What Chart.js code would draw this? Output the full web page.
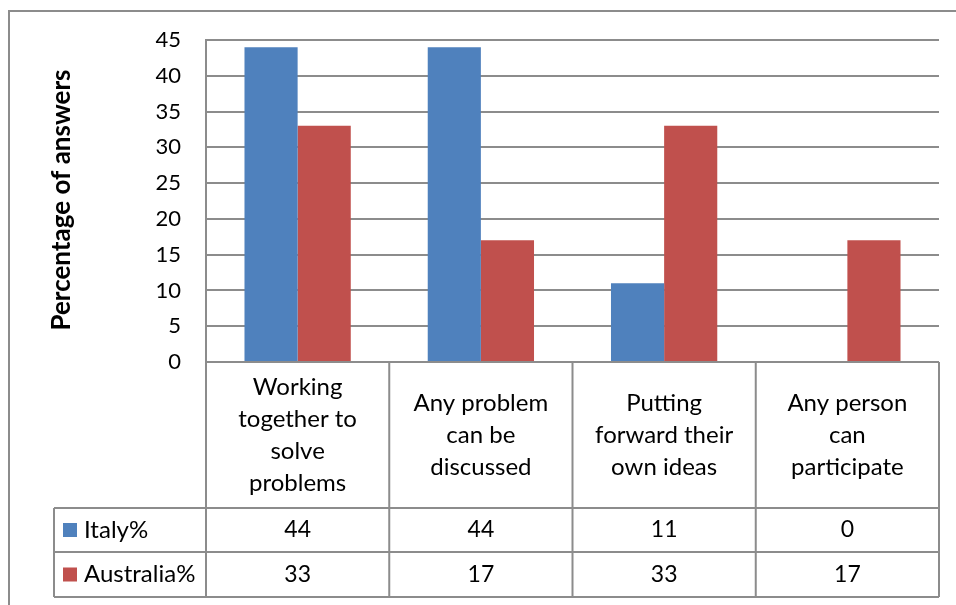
<!DOCTYPE html>
<html>
<head>
<meta charset="utf-8">
<script src="https://cdn.jsdelivr.net/npm/chart.js@4/dist/chart.umd.min.js"></script>
<style>
  html, body { margin: 0; padding: 0; background: #ffffff; }
  #wrap { width: 956px; height: 605px; position: relative; }
</style>
</head>
<body>
<div id="wrap"><canvas id="chart" width="956" height="605"></canvas></div>
<script>
// Survey answers by country (percent of respondents)
const categories = [
  ["Working", "together to", "solve", "problems"],
  ["Any problem", "can be", "discussed"],
  ["Putting", "forward their", "own ideas"],
  ["Any person", "can", "participate"]
];
const seriesNames = ["Italy%", "Australia%"];
const italy = [44, 44, 11, 0];
const australia = [33, 17, 33, 17];
const yTickValues = [0, 5, 10, 15, 20, 25, 30, 35, 40, 45];
const yTitle = "Percentage of answers";

const seriesColors = ["#4F81BD", "#C0504D"];
const lineColor = "#8c8c8c";
const FONT = "Lato, 'Open Sans', sans-serif";

// Data table under the plot: category labels, then one row per series
const dataTable = {
  id: "dataTable",
  afterDraw(chart) {
    const ctx = chart.ctx;
    const area = chart.chartArea;
    const xs = chart.scales.x;
    const n = categories.length;
    const step = (area.right - area.left) / n;
    const bounds = [];
    for (let i = 0; i <= n; i++) bounds.push(area.left + i * step);

    const rowTop = area.bottom;
    const rowCat = 508;
    const rowA = 552;
    const rowB = 597;
    const tableLeft = 54;

    ctx.save();
    // outer chart frame
    ctx.strokeStyle = lineColor;
    ctx.lineWidth = 2;
    ctx.beginPath();
    ctx.moveTo(9, 605);
    ctx.lineTo(9, 11);
    ctx.lineTo(956, 11);
    ctx.stroke();

    // table grid
    ctx.beginPath();
    [rowCat, rowA, rowB].forEach(y => {
      ctx.moveTo(tableLeft, y);
      ctx.lineTo(area.right, y);
    });
    ctx.moveTo(tableLeft, rowCat);
    ctx.lineTo(tableLeft, rowB);
    bounds.forEach(x => {
      ctx.moveTo(x, rowTop);
      ctx.lineTo(x, rowB);
    });
    ctx.stroke();

    // category labels
    ctx.fillStyle = "#000";
    ctx.textAlign = "center";
    ctx.textBaseline = "middle";
    ctx.font = "24px " + FONT;
    const lh = 32;
    categories.forEach((lines, i) => {
      const cx = xs.getPixelForValue(i);
      const cy = (rowTop + rowCat) / 2;
      const y0 = cy - (lines.length - 1) * lh / 2;
      lines.forEach((t, k) => ctx.fillText(t, cx, y0 + k * lh));
    });

    // value rows with legend keys
    const rows = [
      { name: seriesNames[0], vals: italy, top: rowCat, bottom: rowA, color: seriesColors[0] },
      { name: seriesNames[1], vals: australia, top: rowA, bottom: rowB, color: seriesColors[1] }
    ];
    rows.forEach(r => {
      const cy = (r.top + r.bottom) / 2;
      ctx.textAlign = "center";
      ctx.font = "23px " + FONT;
      r.vals.forEach((v, i) => ctx.fillText(String(v), xs.getPixelForValue(i), cy));
      ctx.fillStyle = r.color;
      ctx.fillRect(63, cy - 7, 14, 14);
      ctx.fillStyle = "#000";
      ctx.textAlign = "left";
      ctx.font = "24px " + FONT;
      ctx.fillText(r.name, 84, cy);
    });

    // vertical axis title
    ctx.translate(62, (area.top + area.bottom) / 2 - 1);
    ctx.rotate(-Math.PI / 2);
    ctx.textAlign = "center";
    ctx.font = "bold 26px " + FONT;
    ctx.fillText(yTitle, 0, 0);
    ctx.restore();
  }
};

new Chart(document.getElementById("chart"), {
  type: "bar",
  data: {
    labels: categories.map(c => c.join(" ")),
    datasets: [
      { label: seriesNames[0], data: italy, backgroundColor: seriesColors[0] },
      { label: seriesNames[1], data: australia, backgroundColor: seriesColors[1] }
    ]
  },
  options: {
    responsive: false,
    animation: false,
    devicePixelRatio: 1,
    layout: { padding: { top: 40, right: 17, left: 0, bottom: 0 } },
    datasets: { bar: { barPercentage: 1, categoryPercentage: 0.58 } },
    plugins: { legend: { display: false }, tooltip: { enabled: false } },
    scales: {
      x: {
        grid: { display: false },
        border: { display: false },
        ticks: { display: false },
        afterFit(s) { s.height = 243; }
      },
      y: {
        min: 0,
        max: 45,
        afterBuildTicks(s) { s.ticks = yTickValues.map(v => ({ value: v })); },
        grid: { color: lineColor, lineWidth: 2, drawTicks: false },
        border: { display: true, color: lineColor, width: 2 },
        ticks: { color: "#000", padding: 25, font: { family: FONT, size: 22 } },
        afterFit(s) { s.width = 206; }
      }
    }
  },
  plugins: [dataTable]
});
</script>
</body>
</html>
